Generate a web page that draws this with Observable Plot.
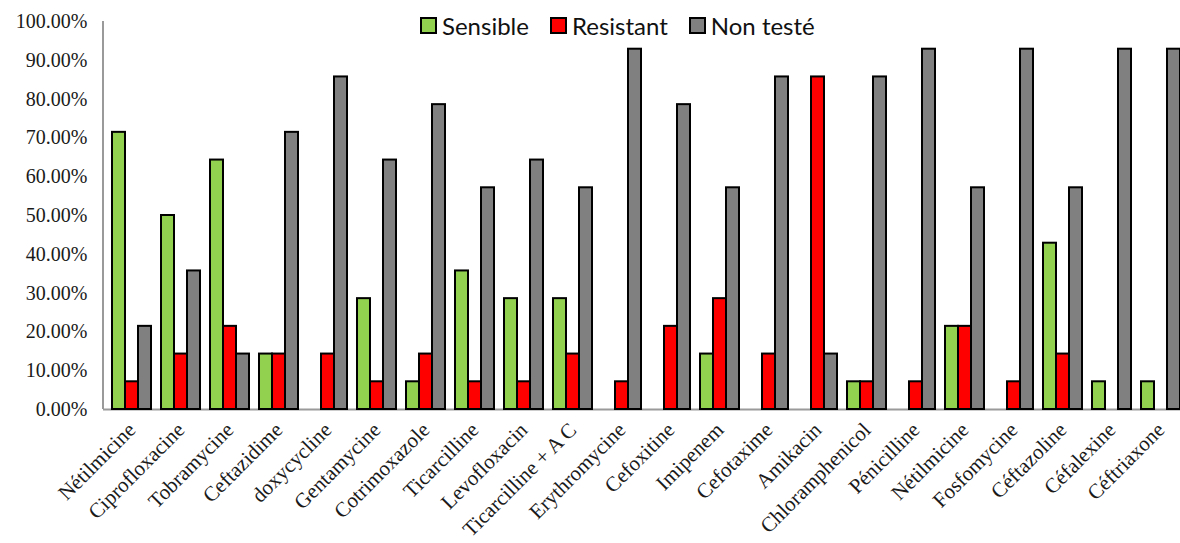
<!DOCTYPE html>
<html>
<head>
<meta charset="utf-8">
<script src="https://cdn.jsdelivr.net/npm/d3@7"></script>
<script src="https://cdn.jsdelivr.net/npm/@observablehq/plot@0.6"></script>
<style>
  html, body { margin: 0; padding: 0; background: #fff; overflow: hidden; }
  #chart { position: relative; width: 1180px; height: 543px; overflow: hidden; }
  #chart svg text { font-family: "Liberation Serif", "Times New Roman", serif !important; font-size: 20px !important; fill: #1a1a1a; font-weight: normal; }
  #legend {
    position: absolute; top: 11px; left: 420px;
    display: flex; align-items: center;
    font-family: Lato, "Open Sans", sans-serif; font-size: 24px; color: #111;
  }
  #legend .item { display: flex; align-items: center; margin-right: 21px; }
  #legend .sw { width: 13px; height: 13px; border: 2px solid #000; margin-right: 5px; }
</style>
</head>
<body>
<div id="chart"><div id="legend"></div></div>
<script>
// Antibiotiques testés (the name "Nétilmicine" appears twice)
const categories = [
  "Nétilmicine", "Ciprofloxacine", "Tobramycine", "Ceftazidime", "doxycycline",
  "Gentamycine", "Cotrimoxazole", "Ticarcilline", "Levofloxacin", "Ticarcilline + A C",
  "Erythromycine", "Cefoxitine", "Imipenem", "Cefotaxime", "Amikacin",
  "Chloramphenicol", "Pénicilline", "Nétilmicine", "Fosfomycine", "Céftazoline",
  "Céfalexine", "Céftriaxone"
];
const sensible  = [0.7143, 0.5000, 0.6429, 0.1429, 0, 0.2857, 0.0714, 0.3571, 0.2857, 0.2857,
                   0, 0, 0.1429, 0, 0, 0.0714, 0, 0.2143, 0, 0.4286, 0.0714, 0.0714];
const resistant = [0.0714, 0.1429, 0.2143, 0.1429, 0.1429, 0.0714, 0.1429, 0.0714, 0.0714, 0.1429,
                   0.0714, 0.2143, 0.2857, 0.1429, 0.8571, 0.0714, 0.0714, 0.2143, 0.0714, 0.1429, 0, 0];
const nonTeste  = [0.2143, 0.3571, 0.1429, 0.7143, 0.8571, 0.6429, 0.7857, 0.5714, 0.6429, 0.5714,
                   0.9286, 0.7857, 0.5714, 0.8571, 0.1429, 0.8571, 0.9286, 0.5714, 0.9286, 0.5714, 0.9286, 0.9286];
const series = ["Sensible", "Resistant", "Non testé"];
const colors = ["#92d050", "#ff0000", "#808080"];
const yTicks = [0, 0.1, 0.2, 0.3, 0.4, 0.5, 0.6, 0.7, 0.8, 0.9, 1];

const rows = categories.flatMap((c, i) =>
  [sensible[i], resistant[i], nonTeste[i]].map((v, j) => ({ i, serie: series[j], value: v }))
).filter(d => d.value > 0);

const width = 1188, height = 543, marginLeft = 103;

const plot = Plot.plot({
  width, height,
  marginLeft, marginRight: 0, marginTop: 21, marginBottom: 134,
  style: { maxWidth: "none", overflow: "visible" },
  fx: { domain: d3.range(categories.length), paddingInner: 0.17, paddingOuter: 0.085, label: null, axis: null },
  x: { domain: series, padding: 0, axis: null },
  y: { domain: [0, 1], axis: null },
  color: { domain: series, range: colors },
  marks: [
    Plot.axisY({ ticks: yTicks, tickFormat: d3.format(".2%"), tickSize: 0, tickPadding: 24, label: null }),
    Plot.axisFx({ anchor: "bottom", tickRotate: -45, tickSize: 0, tickPadding: 17,
                  tickFormat: i => categories[i], label: null }),
    Plot.barY(rows, { fx: "i", x: "serie", y: "value", fill: "serie", stroke: "#000", strokeWidth: 2 })
  ]
});

// Category labels are slightly larger than the percentage ticks
d3.select(plot).selectAll("g[aria-label='fx-axis tick label'] text").style("font-size", "21px", "important");

// Axis line on the left and continuous baseline under all groups
const y = plot.scale("y");
const svg = d3.select(plot);
svg.insert("line", ":first-child")
  .attr("x1", marginLeft).attr("x2", width)
  .attr("y1", y.apply(0) + 0.5).attr("y2", y.apply(0) + 0.5)
  .attr("stroke", "#9a9a9a").attr("stroke-width", 2);
svg.insert("line", ":first-child")
  .attr("x1", marginLeft).attr("x2", marginLeft)
  .attr("y1", y.apply(1)).attr("y2", y.apply(0))
  .attr("stroke", "#9a9a9a").attr("stroke-width", 2);

document.getElementById("chart").prepend(plot);

// Legend across the top of the plot area
const legend = d3.select("#legend");
series.forEach((s, k) => {
  const item = legend.append("div").attr("class", "item");
  item.append("div").attr("class", "sw").style("background", colors[k]);
  item.append("span").text(s);
});
</script>
</body>
</html>
